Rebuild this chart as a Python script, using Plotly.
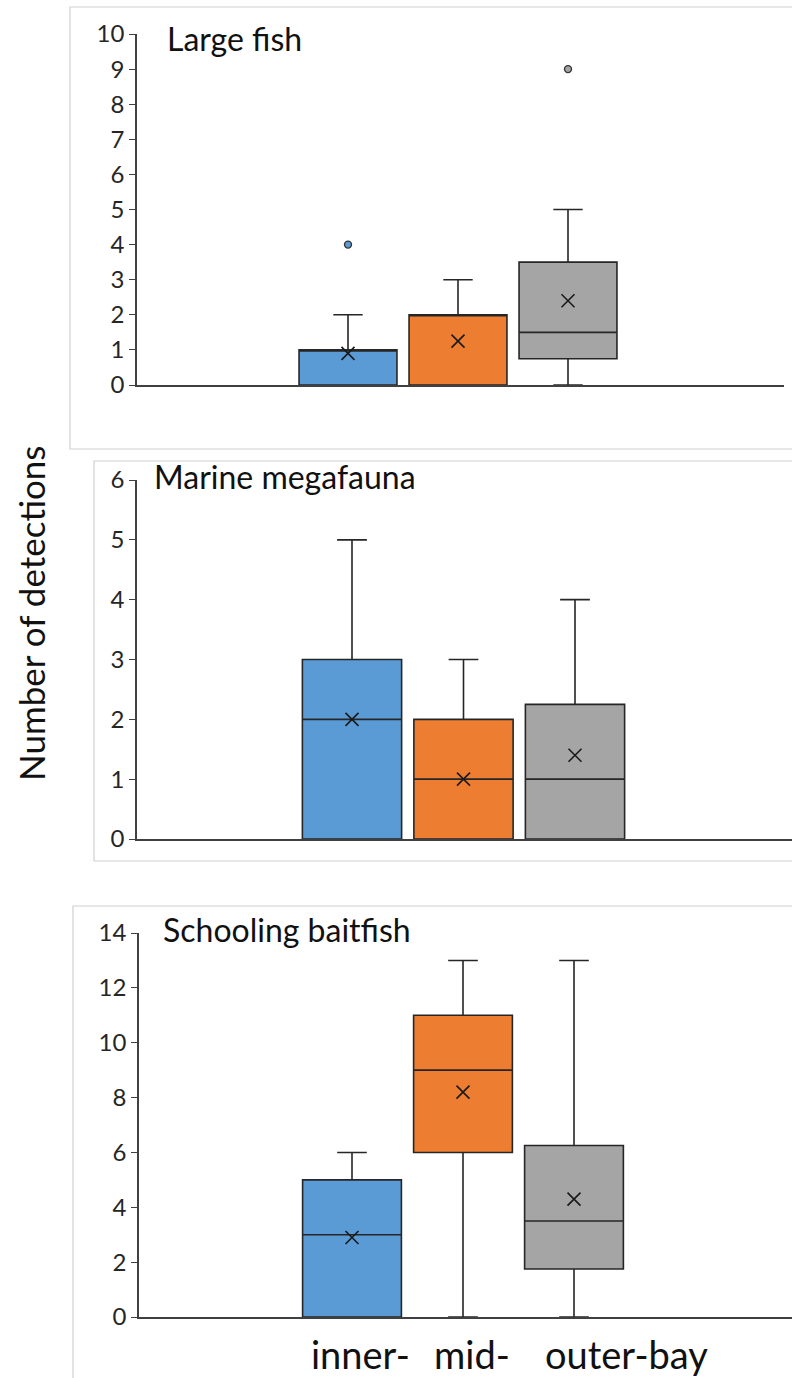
import plotly.graph_objects as go

W, H = 792, 1378

sites = ["inner-", "mid-", "outer-bay"]
colors = ["#5b9bd5", "#ed7d31", "#a5a5a5"]
panel_titles = ["Large fish", "Marine megafauna", "Schooling baitfish"]

# Box statistics per panel (inner, mid, outer)
lf_q1 = [0, 0, 0.75]
lf_med = [1, 2, 1.5]
lf_q3 = [1, 2, 3.5]
lf_lo = [0, 0, 0]
lf_hi = [2, 3, 5]
lf_mean = [0.9, 1.25, 2.4]
lf_out = [[4], [], [9]]

mm_q1 = [0, 0, 0]
mm_med = [2, 1, 1]
mm_q3 = [3, 2, 2.25]
mm_lo = [0, 0, 0]
mm_hi = [5, 3, 4]
mm_mean = [2.0, 1.0, 1.4]
mm_out = [[], [], []]

sb_q1 = [0, 6, 1.75]
sb_med = [3, 9, 3.5]
sb_q3 = [5, 11, 6.25]
sb_lo = [0, 0, 0]
sb_hi = [6, 13, 13]
sb_mean = [2.9, 8.2, 4.3]
sb_out = [[], [], []]

y_max = [10, 6, 14]
y_dtick = [1, 1, 2]

panels = [
    (lf_q1, lf_med, lf_q3, lf_lo, lf_hi, lf_mean, lf_out),
    (mm_q1, mm_med, mm_q3, mm_lo, mm_hi, mm_mean, mm_out),
    (sb_q1, sb_med, sb_q3, sb_lo, sb_hi, sb_mean, sb_out),
]

# layout geometry (pixels)
plot_px = [  # left, right, top(y=max), bottom(y=0)
    (137, 784, 34, 385),
    (137, 792, 480, 839),
    (139, 792, 933, 1317),
]
centers_px = [(348, 457, 568), (352, 463, 575), (352, 463, 574)]
frames_px = [(70, 460, 7, 449), (94, 460, 461, 861), (73, 460, 906, 1400)]
title_px = [(165, 39), (152, 476), (161, 929)]

FONT = "Lato, Open Sans, sans-serif"
AX = "#404040"
xpos = [1, 2, 3]

fig = go.Figure()
layout_axes = {}
for p, (q1, med, q3, lo, hi, mean, out) in enumerate(panels):
    n = p + 1
    xa = "x" if n == 1 else f"x{n}"
    ya = "y" if n == 1 else f"y{n}"
    for i in range(3):
        fig.add_trace(go.Box(
            x=[xpos[i]], q1=[q1[i]], median=[med[i]], q3=[q3[i]],
            lowerfence=[lo[i]], upperfence=[hi[i]],
            fillcolor=colors[i], line=dict(color="#262626", width=1.6),
            width=0.89, whiskerwidth=0.3, boxpoints=False,
            xaxis=xa, yaxis=ya, showlegend=False, hoverinfo="skip",
        ))
        fig.add_trace(go.Scatter(
            x=[xpos[i]], y=[mean[i]], mode="markers",
            marker=dict(symbol="x-thin-open", size=13, color="#1a1a1a",
                        line=dict(color="#1a1a1a", width=1.6)),
            xaxis=xa, yaxis=ya, showlegend=False, hoverinfo="skip",
        ))
        if out[i]:
            fig.add_trace(go.Scatter(
                x=[xpos[i]] * len(out[i]), y=out[i], mode="markers",
                marker=dict(symbol="circle", size=7, color=colors[i],
                            line=dict(color="#333333", width=1.4)),
                xaxis=xa, yaxis=ya, showlegend=False, hoverinfo="skip",
            ))
    L, R, T, B = plot_px[p]
    c = centers_px[p]
    sp = (c[2] - c[0]) / 2.0
    xr = [1 - (c[0] - L) / sp, 1 + (R - c[0]) / sp]
    key = "" if n == 1 else str(n)
    layout_axes["xaxis" + key] = dict(
        domain=[L / W, R / W], range=xr, anchor=ya, automargin=False,
        showline=True, linecolor=AX, linewidth=1.6,
        showticklabels=False, ticks="", showgrid=False, zeroline=False,
    )
    layout_axes["yaxis" + key] = dict(
        domain=[1 - B / H, 1 - T / H], range=[0, y_max[p]], anchor=xa,
        automargin=False,
        dtick=y_dtick[p], tick0=0, showline=True, linecolor=AX, linewidth=1.6,
        ticks="outside", ticklen=6, tickwidth=1.4, tickcolor=AX,
        showgrid=False, zeroline=False,
        tickfont=dict(family=FONT, size=24, color="#262626"),
    )

shapes = []
for (l, r, t, b) in frames_px:
    shapes.append(dict(type="rect", xref="paper", yref="paper",
                       x0=l / W, x1=(W + 20) / W, y0=1 - b / H, y1=1 - t / H,
                       line=dict(color="#d0d0d0", width=1.2), layer="below"))

annotations = []
for (tx, ty), t in zip(title_px, panel_titles):
    annotations.append(dict(text=t, x=tx / W, y=1 - ty / H, xref="paper", yref="paper",
                            xanchor="left", yanchor="middle", showarrow=False,
                            font=dict(family=FONT, size=32, color="#111111")))

annotations.append(dict(text="Number of detections", x=31 / W, y=1 - 613 / H,
                        xref="paper", yref="paper", textangle=-90,
                        xanchor="center", yanchor="middle", showarrow=False,
                        font=dict(family=FONT, size=35, color="#111111")))

label_px = [360, 472, 626]
for s, lx in zip(sites, label_px):
    annotations.append(dict(text=s, x=lx / W, y=1 - 1354 / H, xref="paper", yref="paper",
                            xanchor="center", yanchor="middle", showarrow=False,
                            font=dict(family=FONT, size=38, color="#111111")))

fig.update_layout(
    width=W, height=H, autosize=False,
    margin=dict(l=0, r=0, t=0, b=0, pad=0, autoexpand=False),
    paper_bgcolor="white", plot_bgcolor="rgba(0,0,0,0)",
    showlegend=False, hovermode=False,
    shapes=shapes, annotations=annotations,
    **layout_axes,
)

fig.write_html("out.html", config={"displayModeBar": False})
